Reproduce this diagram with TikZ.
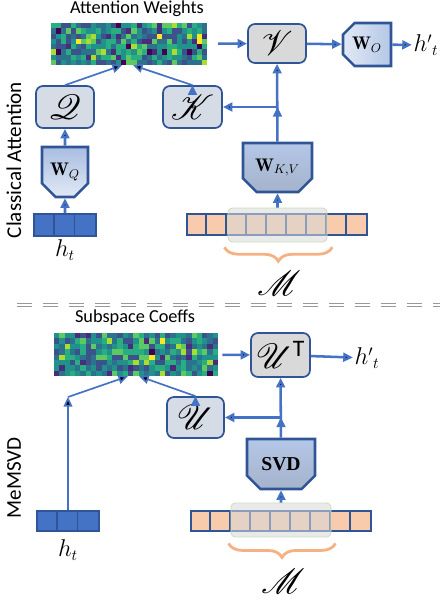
\documentclass[tikz,border=0pt]{standalone}
\usepackage{fontspec}
\usepackage{amsmath}
\usepackage{mathrsfs}
\usetikzlibrary{positioning, arrows.meta, shapes.misc, decorations.pathreplacing}
\newfontfamily\calib{Carlito}
\newfontfamily\timesf{Liberation Serif}

\definecolor{arrblue}{HTML}{4472C4}
\definecolor{edgeblue}{HTML}{2F5597}
\definecolor{boxgray}{HTML}{D9D9D9}
\definecolor{boxpale}{HTML}{D5DCE6}
\definecolor{wtop}{HTML}{B4C7E7}
\definecolor{wbot}{HTML}{A5B3CB}
\definecolor{wdark}{HTML}{A8BDE1}
\definecolor{wpale}{HTML}{E2E9F5}
\definecolor{memfill}{HTML}{F8CBAD}
\definecolor{braceor}{HTML}{F4B183}
\definecolor{selgreen}{HTML}{C9DDBB}
% viridis steps for the heat maps
\definecolor{vir0}{HTML}{440154}
\definecolor{vir1}{HTML}{472D7B}
\definecolor{vir2}{HTML}{3B528B}
\definecolor{vir3}{HTML}{2C728E}
\definecolor{vir4}{HTML}{21918C}
\definecolor{vir5}{HTML}{28AE80}
\definecolor{vir6}{HTML}{5EC962}
\definecolor{vir7}{HTML}{ADDC30}
\definecolor{vir8}{HTML}{FDE725}

\tikzset{
  flow/.style={draw=arrblue, line width=1.8pt, -{Triangle[length=0.24cm,width=0.22cm]}},
  thinflow/.style={draw=arrblue, line width=1.2pt, -{Triangle[length=0.24cm,width=0.22cm]}},
  opbox/.style={draw=edgeblue, line width=1.2pt, rounded corners=5pt, fill=boxpale,
    inner sep=0pt, font=\fontsize{24}{24}\selectfont},
  wbox/.style={chamfered rectangle, chamfered rectangle xsep=0.17cm,
    chamfered rectangle ysep=0.17cm, chamfered rectangle corners={south west,south east},
    draw=edgeblue, line width=1.8pt, top color=wtop, bottom color=wbot,
    inner sep=0pt, font=\fontsize{13}{13}\selectfont},
  membar/.style={draw=edgeblue, line width=1.2pt, fill=memfill, inner sep=0pt,
    minimum width=4.5cm},
  hbar/.style={draw=edgeblue, line width=1.2pt, fill=arrblue, inner sep=0pt,
    minimum width=1.55cm},
  selbox/.style={draw=selgreen, line width=0.6pt, fill=boxgray, fill opacity=0.55,
    rounded corners=3pt, inner sep=0pt},
  mbrace/.style={draw=braceor, line width=2pt,
    decorate, decoration={brace, mirror, amplitude=0.35cm}},
  caption/.style={font=\calib\fontsize{13}{13}\selectfont},
  side/.style={rotate=90, font=\calib\fontsize{15}{15}\selectfont},
  outlbl/.style={inner sep=1pt, font=\fontsize{16}{16}\selectfont},
}

\begin{document}
\begin{tikzpicture}[x=0.025cm, y=-0.025cm]
\useasboundingbox (0,0) rectangle (448,600);

% heat maps
\pgfmathsetseed{11}
\foreach \ox/\oy/\cw/\ch in {51/23/5.03/5.25, 54/333/5.29/5.375}{
  \foreach \i in {0,...,30}
    \foreach \j in {0,...,7}{
      \pgfmathtruncatemacro\k{max(0,min(8,4.4+(rnd+rnd+rnd-1.5)*3.4))}
      \fill[vir\k] ({\ox+\i*\cw},{\oy+\j*\ch}) rectangle ++(\cw+0.1,\ch+0.1);
    }
}

%%% classical attention
\node[caption] (attwlbl) at (137,9) {Attention Weights};
\node[minimum width=3.9cm, minimum height=1.05cm, inner sep=0pt] (attw) at (129,44) {};
\node[opbox, fill=boxgray, minimum width=1.45cm, minimum height=0.975cm] (vbox) at (277,43.5) {$\mathscr{V}$};
\node[wbox, chamfered rectangle corners={north west,south west}, left color=wpale, right color=wtop,
  chamfered rectangle xsep=0.12cm, minimum width=1.2cm, minimum height=1.075cm] (wo) at (367,44.5) {$\mathbf{W}_O$};
\node[outlbl] (htout) at (426,45) {$h'{}_t$};
\node[opbox, minimum width=1.45cm, minimum height=1.05cm] (qbox) at (65,107) {$\mathscr{Q}$};
\node[opbox, minimum width=1.475cm, minimum height=1.05cm] (kbox) at (192.5,107) {$\mathscr{K}$};
\node[wbox, top color=wdark, bottom color=wpale, minimum width=1.15cm, minimum height=1.25cm] (wq) at (65,172) {$\mathbf{W}_Q$};
\node[wbox, minimum width=1.725cm, minimum height=1.225cm] (wkv) at (277.5,167.5) {$\mathbf{W}_{K,V}$};

\node[hbar, minimum height=0.55cm] (ht) at (65,225) {};
\foreach \c in {1,2}
  \draw[edgeblue, line width=1.2pt] ([xshift=\c*0.5167cm]ht.south west) -- ([xshift=\c*0.5167cm]ht.north west);
\node[outlbl] (htlbl) at (65,250) {$h_t$};

\node[membar, minimum height=0.525cm] (mem) at (277,224.5) {};
\foreach \c in {1,...,8}
  \draw[edgeblue, line width=1.2pt] ([xshift=\c*0.5cm]mem.south west) -- ([xshift=\c*0.5cm]mem.north west);
\node[selbox, minimum width=2.475cm, minimum height=0.85cm] (memsel) at (277.5,225) {};
\draw[mbrace] ([xshift=-0.08cm,yshift=-0.12cm]memsel.south west) -- ([xshift=0.12cm,yshift=-0.12cm]memsel.south east);
\node[font=\fontsize{24}{24}\selectfont] (mlbl) at (279,283) {$\mathscr{M}$};

\path[flow]
(ht) edge (wq)
(wq) edge (qbox)
(attw) edge[shorten <=0.27cm] (vbox)
(vbox) edge (wo)
(wo) edge (htout)
(memsel) edge (wkv)
(wkv) edge (vbox)
(wkv.north |- kbox.east) edge (kbox);
\path[thinflow]
(qbox.north) edge ([xshift=-0.175cm]attw.south)
(kbox.north) edge ([xshift=0.1cm]attw.south);

% separator
\draw[gray!80, double=white, double distance=1.2pt, line width=0.6pt, dash pattern=on 0.37cm off 0.28cm] (17,305) -- (440,305);

%%% MeMSVD
\node[caption] (coeflbl) at (135,318) {Subspace Coeffs};
\node[minimum width=4.1cm, minimum height=1.075cm, inner sep=0pt] (coef) at (136,354.5) {};
\node[opbox, fill=boxgray, minimum width=1.475cm, minimum height=1.1cm] (utbox) at (280.5,355) {$\mathscr{U}^{\text{\calib T}}$};
\node[outlbl] (htout2) at (367,358) {$h'{}_t$};
\node[opbox, minimum width=1.425cm, minimum height=1.025cm] (ubox) at (195.5,417.5) {$\mathscr{U}$};
\node[wbox, minimum width=1.7cm, minimum height=1.25cm, font=\timesf\bfseries\fontsize{14}{14}\selectfont] (svd) at (281,464) {SVD};

\node[hbar, minimum height=0.5cm] (ht2) at (68,521) {};
\foreach \c in {1,2}
  \draw[edgeblue, line width=1.2pt] ([xshift=\c*0.5167cm]ht2.south west) -- ([xshift=\c*0.5167cm]ht2.north west);
\node[outlbl] (htlbl2) at (68,550) {$h_t$};
\coordinate (hbend) at (68,397);

\node[membar, minimum height=0.5cm] (mem2) at (281,521) {};
\foreach \c in {1,...,8}
  \draw[edgeblue, line width=1.2pt] ([xshift=\c*0.5cm]mem2.south west) -- ([xshift=\c*0.5cm]mem2.north west);
\node[selbox, minimum width=2.5cm, minimum height=0.85cm] (memsel2) at (281,520) {};
\draw[mbrace] ([xshift=-0.05cm,yshift=-0.15cm]memsel2.south west) -- ([xshift=0.1cm,yshift=-0.15cm]memsel2.south east);
\node[font=\fontsize{24}{24}\selectfont] (mlbl2) at (283,581) {$\mathscr{M}$};

\path[flow]
(coef) edge[shorten <=0.1cm] (utbox)
(utbox) edge (htout2)
(memsel2) edge (svd)
(svd) edge (utbox)
(svd.north |- ubox.east) edge (ubox);
\path[thinflow]
(ht2) edge (hbend)
(hbend) edge ([xshift=-0.2cm]coef.south)
(ubox.north) edge ([xshift=0.08cm]coef.south);

% row titles
\node[side] (rowca) at (14,160) {Classical Attention};
\node[side] (rowsvd) at (14,478) {MeMSVD};
\end{tikzpicture}
\end{document}
